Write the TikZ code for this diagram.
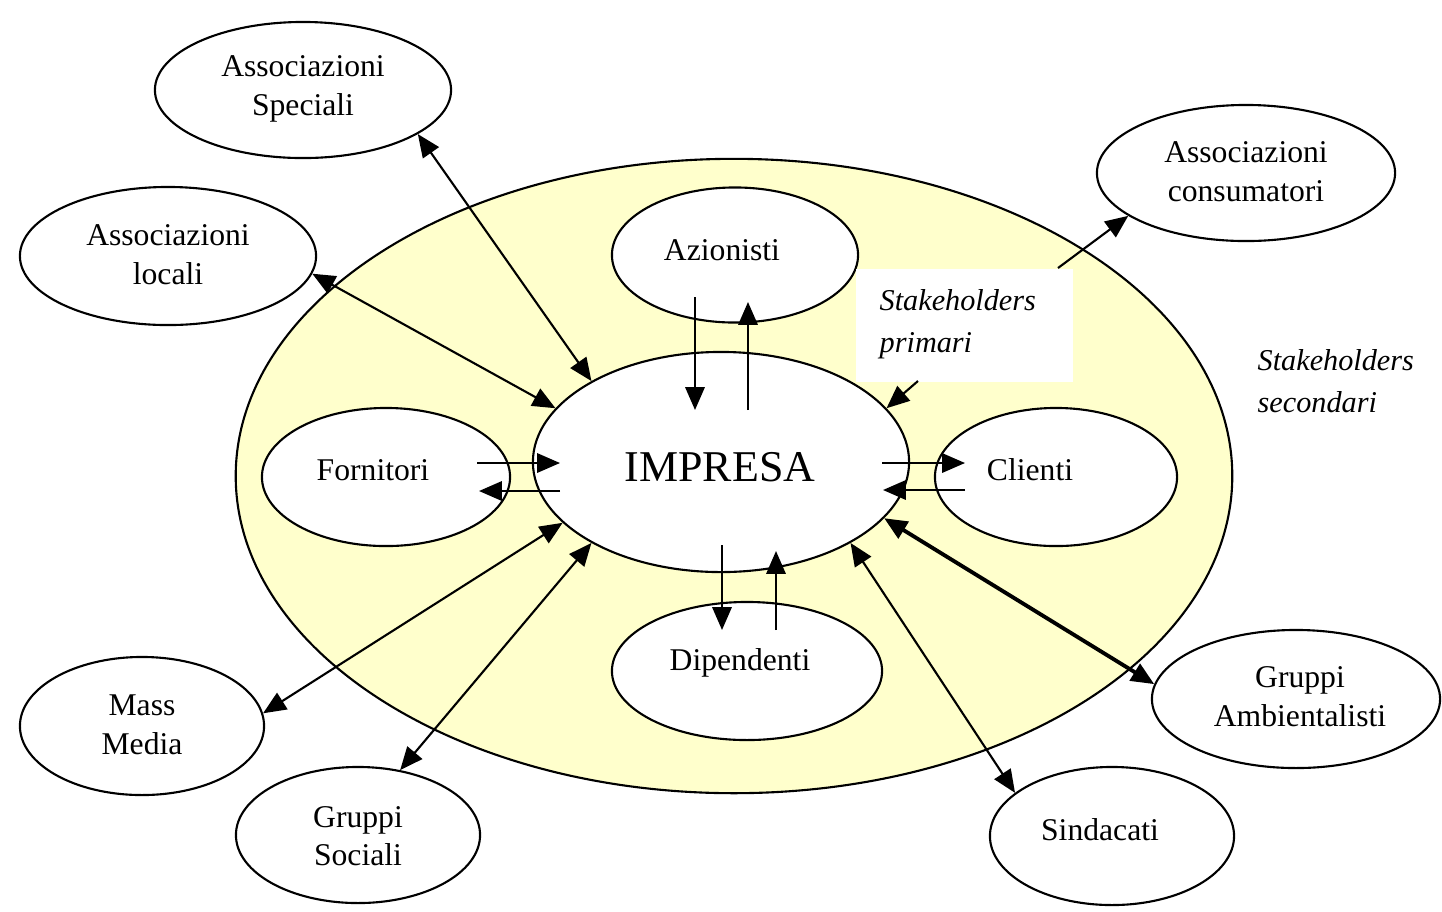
\documentclass[tikz,border=0pt]{standalone}
\usepackage{fontspec}
\setmainfont{Liberation Serif}
\usetikzlibrary{shapes.geometric,arrows.meta,calc}
\definecolor{secyellow}{RGB}{255,255,204}
\begin{document}
\begin{tikzpicture}[x=0.01cm,y=-0.01cm,
  ell/.style={ellipse,draw=black,line width=0.6pt,fill=white,inner sep=0pt},
  lbl/.style={font=\fontsize{9}{11}\selectfont,align=center,inner sep=0pt},
  itl/.style={font=\fontsize{8.6}{12}\selectfont\itshape,align=left,inner sep=0pt,anchor=west},
  tip/.tip={Triangle[length=6.5pt,width=5.5pt]},
  conn/.style={line width=0.6pt,-tip},
  biconn/.style={line width=0.6pt,tip-tip},
]
\fill[white] (0,0) rectangle (1442,911);
\useasboundingbox (0,0) rectangle (1442,911);

% secondary area
\node[ellipse,fill=secyellow,draw=black,line width=0.6pt,inner sep=0pt,
      minimum width=9.96cm,minimum height=6.34cm] (sec) at (734,476) {};

% ellipses
\node[ell,minimum width=2.96cm,minimum height=1.36cm] (as) at (303,90) {};
\node[ell,minimum width=2.96cm,minimum height=1.38cm] (al) at (168,256) {};
\node[ell,minimum width=2.98cm,minimum height=1.36cm] (ac) at (1246,173) {};
\node[ell,minimum width=2.46cm,minimum height=1.35cm] (az) at (735,255) {};
\node[ell,minimum width=2.48cm,minimum height=1.38cm] (forn) at (386,477) {};
\node[ell,minimum width=3.76cm,minimum height=2.20cm] (imp) at (721,462) {};
\node[ell,minimum width=2.42cm,minimum height=1.38cm] (cli) at (1056,477) {};
\node[ell,minimum width=2.70cm,minimum height=1.38cm] (dip) at (747,671) {};
\node[ell,minimum width=2.44cm,minimum height=1.38cm] (mm) at (142,726) {};
\node[ell,minimum width=2.44cm,minimum height=1.36cm] (gs) at (358,835) {};
\node[ell,minimum width=2.44cm,minimum height=1.38cm] (sin) at (1112,836) {};
\node[ell,minimum width=2.88cm,minimum height=1.38cm] (ga) at (1296,699) {};

% white label box
\node[fill=white,inner sep=0pt,anchor=north west,minimum width=2.17cm,minimum height=1.13cm] (prim) at (855,268) {};

% texts
\node[lbl] (ast) at (303,89) {Associazioni\\Speciali};
\node[lbl] (alt) at (168,255) {Associazioni\\locali};
\node[lbl] (act) at (1246,172) {Associazioni\\consumatori};
\node[lbl] (azt) at (722,250) {Azionisti};
\node[lbl] (fornt) at (373,470) {Fornitori};
\node[lbl,font=\fontsize{12.5}{14}\selectfont] (impt) at (720,467) {IMPRESA};
\node[lbl] (clit) at (1030,470) {Clienti};
\node[lbl] (dipt) at (740,663) {Dipendenti};
\node[lbl] (mmt) at (142,725) {Mass\\Media};
\node[lbl] (gst) at (358,836) {Gruppi\\Sociali};
\node[lbl] (sint) at (1100,830) {Sindacati};
\node[lbl] (gat) at (1300,697) {Gruppi\\Ambientalisti};
\node[itl] (primt) at (879,324) {Stakeholders\\primari};
\node[itl] (sect) at (1257,381) {Stakeholders\\secondari};

% secondary stakeholders connectors
\draw[biconn] (as.-21.5) -- (imp.148.9);
\draw[biconn] (al.-7) -- (imp.162.1);
\draw[biconn] (mm.6.3) -- (imp.201.4);
\draw[biconn] (gs.57.9) -- (imp.212.9);
\draw[biconn] (sin.156.4) -- (imp.-32.1);
\draw[biconn,line width=1.1pt] (ga.174.4) -- (imp.-19.5);
\coordinate (acs) at (1058,268);
\draw[conn] (acs) -- (ac.200);
\coordinate (ps) at (918,381);
\draw[conn] (ps) -- (imp.18.2);

% primary stakeholders connectors
\draw[conn] ($(az.center)+(-40,42)$) -- ($(imp.center)+(-26,-52)$);
\draw[conn] ($(imp.center)+(27,-52)$) -- ($(az.center)+(13,47)$);
\draw[conn] ($(imp.center)+(1,83)$) -- ($(dip.center)+(-25,-41)$);
\draw[conn] ($(dip.center)+(29,-41)$) -- ($(imp.center)+(55,89)$);
\draw[conn] ($(forn.center)+(91,-14)$) -- ($(imp.center)+(-161,1)$);
\draw[conn] ($(imp.center)+(-161,29)$) -- ($(forn.center)+(93,14)$);
\draw[conn] ($(imp.center)+(161,1)$) -- ($(cli.center)+(-91,-14)$);
\draw[conn] ($(cli.center)+(-91,13)$) -- ($(imp.center)+(162,28)$);
\end{tikzpicture}
\end{document}
